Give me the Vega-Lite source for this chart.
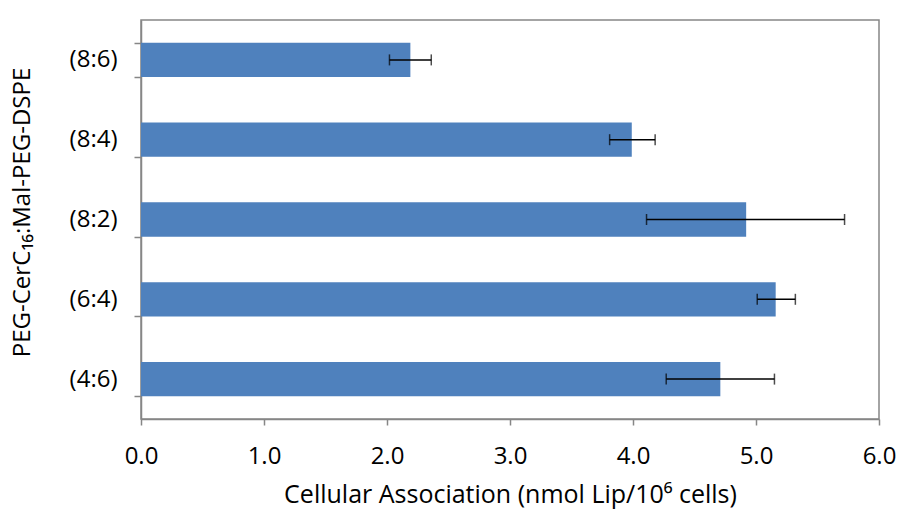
{
  "$schema": "https://vega.github.io/schema/vega-lite/v6.json",
  "autosize": {"type": "none"},
  "padding": {"left": 141, "top": 20, "right": 21, "bottom": 92},
  "width": 738,
  "height": 399,
  "background": "white",
  "config": {
    "font": "Open Sans",
    "view": {"stroke": "#868686", "strokeWidth": 1.5},
    "axis": {"domainColor": "#868686", "domainWidth": 1.5, "tickColor": "#868686", "tickWidth": 1.5, "grid": false, "labelColor": "#000000", "titleColor": "#000000", "labelFont": "Open Sans", "titleFont": "Open Sans", "titleFontWeight": "normal"}
  },
  "data": {
    "values": [
      {"ratio": "(8:6)", "value": 2.19, "lo": 2.02, "hi": 2.36},
      {"ratio": "(8:4)", "value": 3.99, "lo": 3.81, "hi": 4.18},
      {"ratio": "(8:2)", "value": 4.92, "lo": 4.11, "hi": 5.72},
      {"ratio": "(6:4)", "value": 5.16, "lo": 5.01, "hi": 5.32},
      {"ratio": "(4:6)", "value": 4.71, "lo": 4.27, "hi": 5.15}
    ]
  },
  "encoding": {
    "y": {
      "field": "ratio", "type": "nominal", "sort": null,
      "scale": {"paddingInner": 0.57, "paddingOuter": 0.285},
      "axis": {"title": "PEG-CerC₁₆:Mal-PEG-DSPE", "tickBand": "extent", "tickSize": 7, "labelPadding": 17, "labelFontSize": 24, "titleFontSize": 24, "titlePadding": 35, "titleY": 192}
    }
  },
  "layer": [
    {
      "mark": {"type": "bar", "color": "#4F81BD"},
      "encoding": {
        "x": {
          "field": "value", "type": "quantitative",
          "scale": {"domain": [0, 6], "nice": false},
          "axis": {"title": "Cellular Association (nmol Lip/10⁶ cells)", "values": [0, 1, 2, 3, 4, 5, 6], "format": ".1f", "tickSize": 6, "labelPadding": 19, "labelFontSize": 24, "titleFontSize": 25, "titlePadding": 14, "labelFlush": false}
        }
      }
    },
    {
      "mark": {"type": "rule", "color": "#000000", "strokeWidth": 1.5},
      "encoding": {
        "x": {"field": "lo", "type": "quantitative"},
        "x2": {"field": "hi"}
      }
    },
    {
      "mark": {"type": "tick", "color": "#000000", "size": 11, "thickness": 1.5},
      "encoding": {"x": {"field": "lo", "type": "quantitative"}}
    },
    {
      "mark": {"type": "tick", "color": "#000000", "size": 11, "thickness": 1.5},
      "encoding": {"x": {"field": "hi", "type": "quantitative"}}
    }
  ]
}
